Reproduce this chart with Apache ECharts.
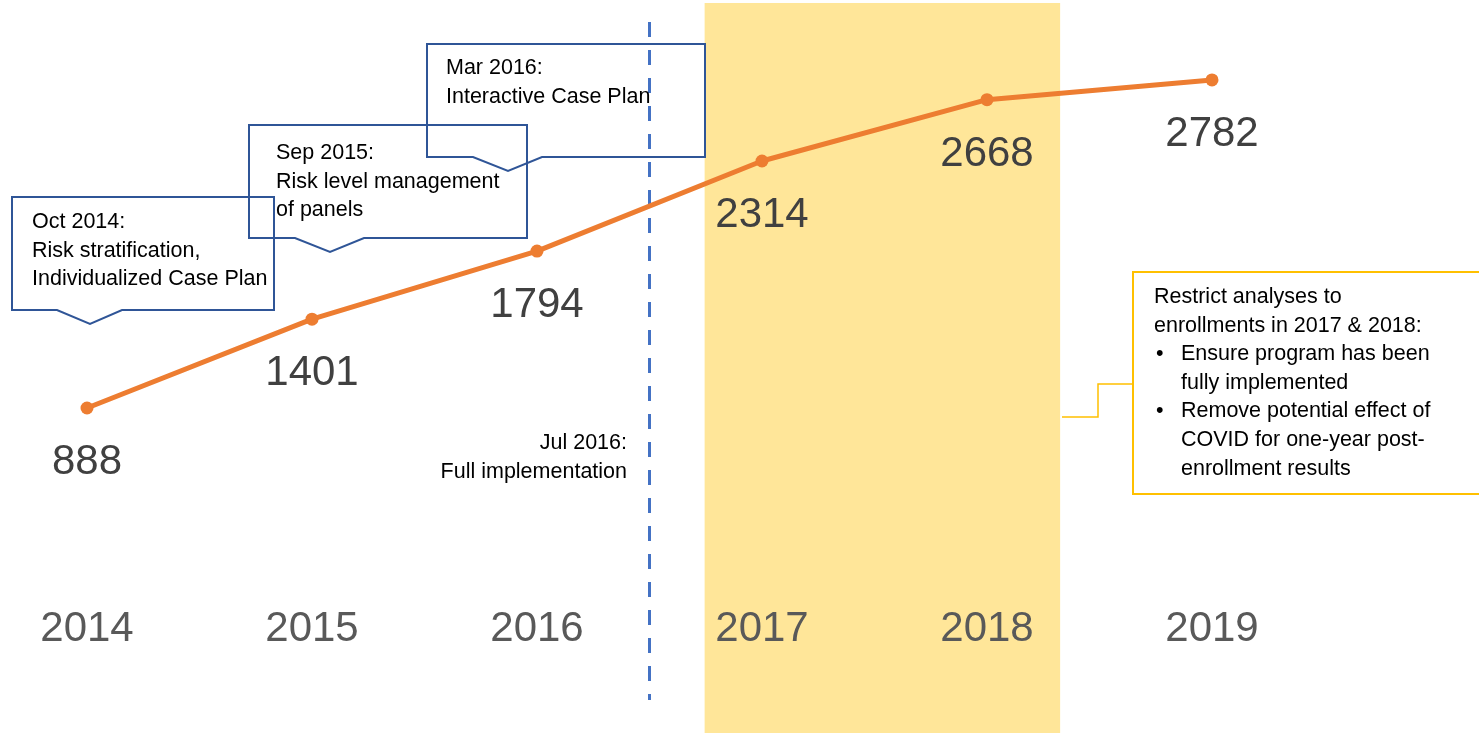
<!DOCTYPE html>
<html>
<head>
<meta charset="utf-8">
<script src="https://cdn.jsdelivr.net/npm/echarts@6/dist/echarts.min.js"></script>
<style>
  html, body { margin: 0; padding: 0; background: #fff; }
  #main { width: 1479px; height: 733px; }
</style>
</head>
<body>
<div id="main"></div>
<script>
// enrollment counts per year
const years = [2014, 2015, 2016, 2017, 2018, 2019];
const enrollments = [888, 1401, 1794, 2314, 2668, 2782];
// restricted analysis window (shaded) and full implementation date (Jul 2016)
const bandRange = [2016.745, 2018.325];
const fullImpl = 2016.5;

const FONT = '"Liberation Sans", Arial, sans-serif';
const small = '21.5px ' + FONT;
const LH = 28.7;

// callout boxes with a little pointer at the bottom
function callout(l, r, t, b, p1, apex, p2, tipY) {
    return {
        type: 'polygon', z: 20,
        shape: { points: [[l, t], [r, t], [r, b], [p2, b], [apex, tipY], [p1, b], [l, b]] },
        style: { fill: 'none', stroke: '#2F5597', lineWidth: 2 },
        silent: true
    };
}
function txt(x, y, s, align) {
    return {
        type: 'text', x: x, y: y, z: 20, silent: true,
        style: { text: s, font: small, lineHeight: LH, fill: '#000', align: align || 'left', verticalAlign: 'top' }
    };
}

const option = {
    animation: false,
    grid: { left: 87, right: 267, top: 3, bottom: 0, containLabel: false, outerBoundsMode: 'none' },
    xAxis: {
        type: 'value',
        z: 10,
        min: 2014, max: 2019, interval: 1,
        axisLine: { show: false, onZero: false },
        axisTick: { show: false },
        splitLine: { show: false },
        axisLabel: {
            // pulled up into the plot so the years sit just under y = 0
            margin: -125,
            fontSize: 42,
            fontFamily: FONT,
            color: '#595959',
            formatter: v => String(v)
        }
    },
    yAxis: {
        type: 'value',
        min: -988, max: 3226,
        axisLine: { show: false },
        axisTick: { show: false },
        axisLabel: { show: false },
        splitLine: { show: false }
    },
    series: [
        {
            type: 'line',
            data: years.map((y, i) => [y, enrollments[i]]),
            symbol: 'circle',
            symbolSize: 13,
            lineStyle: { color: '#ED7D31', width: 5 },
            itemStyle: { color: '#ED7D31' },
            z: 5,
            label: {
                show: true,
                position: 'bottom',
                distance: 27,
                fontSize: 42,
                fontFamily: FONT,
                color: '#404040',
                formatter: p => String(p.value[1])
            },
            markArea: {
                silent: true,
                z: 1,
                itemStyle: { color: '#FFE699' },
                data: [[{ xAxis: bandRange[0] }, { xAxis: bandRange[1] }]]
            },
            markLine: {
                silent: true,
                symbol: 'none',
                label: { show: false },
                lineStyle: { color: '#4472C4', width: 3, type: [15, 13] },
                data: [[{ coord: [fullImpl, 3117] }, { coord: [fullImpl, -798] }]]
            }
        }
    ],
    graphic: [
        callout(12, 274, 197, 310, 57, 90, 122, 324),
        callout(249, 527, 125, 238, 295, 330, 364, 252),
        callout(427, 705, 44, 157, 473, 508, 542, 171),
        txt(32, 222 - LH / 2, 'Oct 2014:\nRisk stratification,\nIndividualized Case Plan'),
        txt(276, 153 - LH / 2, 'Sep 2015:\nRisk level management\nof panels'),
        txt(446, 68 - LH / 2, 'Mar 2016:\nInteractive Case Plan'),
        txt(627, 443 - LH / 2, 'Jul 2016:\nFull implementation', 'right'),
        {
            type: 'polyline', silent: true, z: 20,
            shape: { points: [[1062, 417], [1098, 417], [1098, 384], [1133, 384]] },
            style: { stroke: '#FFC000', lineWidth: 1.5, fill: 'none' }
        },
        {
            type: 'rect', silent: true, z: 20,
            shape: { x: 1133, y: 272, width: 352, height: 222 },
            style: { fill: '#fff', stroke: '#FFC000', lineWidth: 2 }
        },
        txt(1154, 297 - LH / 2, 'Restrict analyses to\nenrollments in 2017 & 2018:'),
        txt(1156, 354 - LH / 2, '•\n\n•'),
        txt(1181, 354 - LH / 2, 'Ensure program has been\nfully implemented\nRemove potential effect of\nCOVID for one-year post-\nenrollment results')
    ]
};

const chart = echarts.init(document.getElementById('main'));
chart.setOption(option);
</script>
</body>
</html>
